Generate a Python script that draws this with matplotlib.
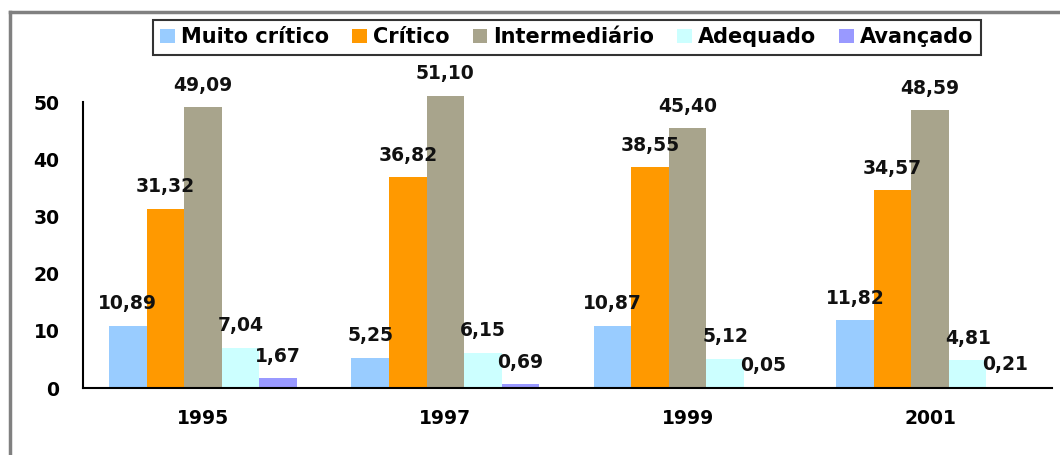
import matplotlib
matplotlib.use('Agg')
import matplotlib.pyplot as plt
import numpy as np
from matplotlib.lines import Line2D

years = ['1995', '1997', '1999', '2001']
series = ['Muito crítico', 'Crítico', 'Intermediário', 'Adequado', 'Avançado']
muito_critico = [10.89, 5.25, 10.87, 11.82]
critico = [31.32, 36.82, 38.55, 34.57]
intermediario = [49.09, 51.10, 45.40, 48.59]
adequado = [7.04, 6.15, 5.12, 4.81]
avancado = [1.67, 0.69, 0.05, 0.21]
colors = ['#99CCFF', '#FF9900', '#A8A48C', '#CCFFFF', '#9999FF']

values = [muito_critico, critico, intermediario, adequado, avancado]

plt.rcParams['font.family'] = 'DejaVu Sans'
plt.rcParams['font.weight'] = 'bold'

fig = plt.figure(figsize=(10.6, 4.55), dpi=100)
ax = fig.add_axes([83/1060, 1-388/455, (1052-83)/1060, (388-102)/455])

x = np.arange(len(years))
w = 0.155
for i, (name, vals, c) in enumerate(zip(series, values, colors)):
    pos = x + (i - 2) * w
    ax.bar(pos, vals, w, color=c, label=name, clip_on=False, zorder=2)
    for xp, v in zip(pos, vals):
        ax.annotate(('%.2f' % v).replace('.', ','), (xp, v), xytext=(0, 9),
                    textcoords='offset points', ha='center', va='bottom',
                    fontsize=13.5, fontweight='bold', color='#111111',
                    annotation_clip=False)

ax.set_xlim(-0.495, 3.503)
ax.set_ylim(0, 50)
ax.set_yticks([0, 10, 20, 30, 40, 50])
ax.set_xticks(x)
ax.set_xticklabels(years)
ax.tick_params(length=0, labelsize=13.5)
ax.tick_params(axis='y', pad=17)
ax.tick_params(axis='x', pad=15)
for lab in ax.get_xticklabels() + ax.get_yticklabels():
    lab.set_fontweight('bold')
ax.spines['top'].set_visible(False)
ax.spines['right'].set_visible(False)
ax.spines['left'].set_linewidth(1.5)
ax.spines['bottom'].set_linewidth(1.5)

leg = fig.legend(loc='center', bbox_to_anchor=(0.535, 0.918), ncol=5,
                 frameon=True, fancybox=False, edgecolor='black',
                 handlelength=0.7, handleheight=0.7, handletextpad=0.3,
                 columnspacing=1.1, borderpad=0.35, prop={'size': 15, 'weight': 'bold'})
leg.get_frame().set_linewidth(1.5)

# outer frame lines (top and left)
fig.add_artist(Line2D([10/1060, 1], [1-12/455, 1-12/455], color='#808080', lw=2.5))
fig.add_artist(Line2D([10/1060, 10/1060], [0, 1-12/455], color='#808080', lw=2.5))

fig.savefig('out.png', dpi=100)
